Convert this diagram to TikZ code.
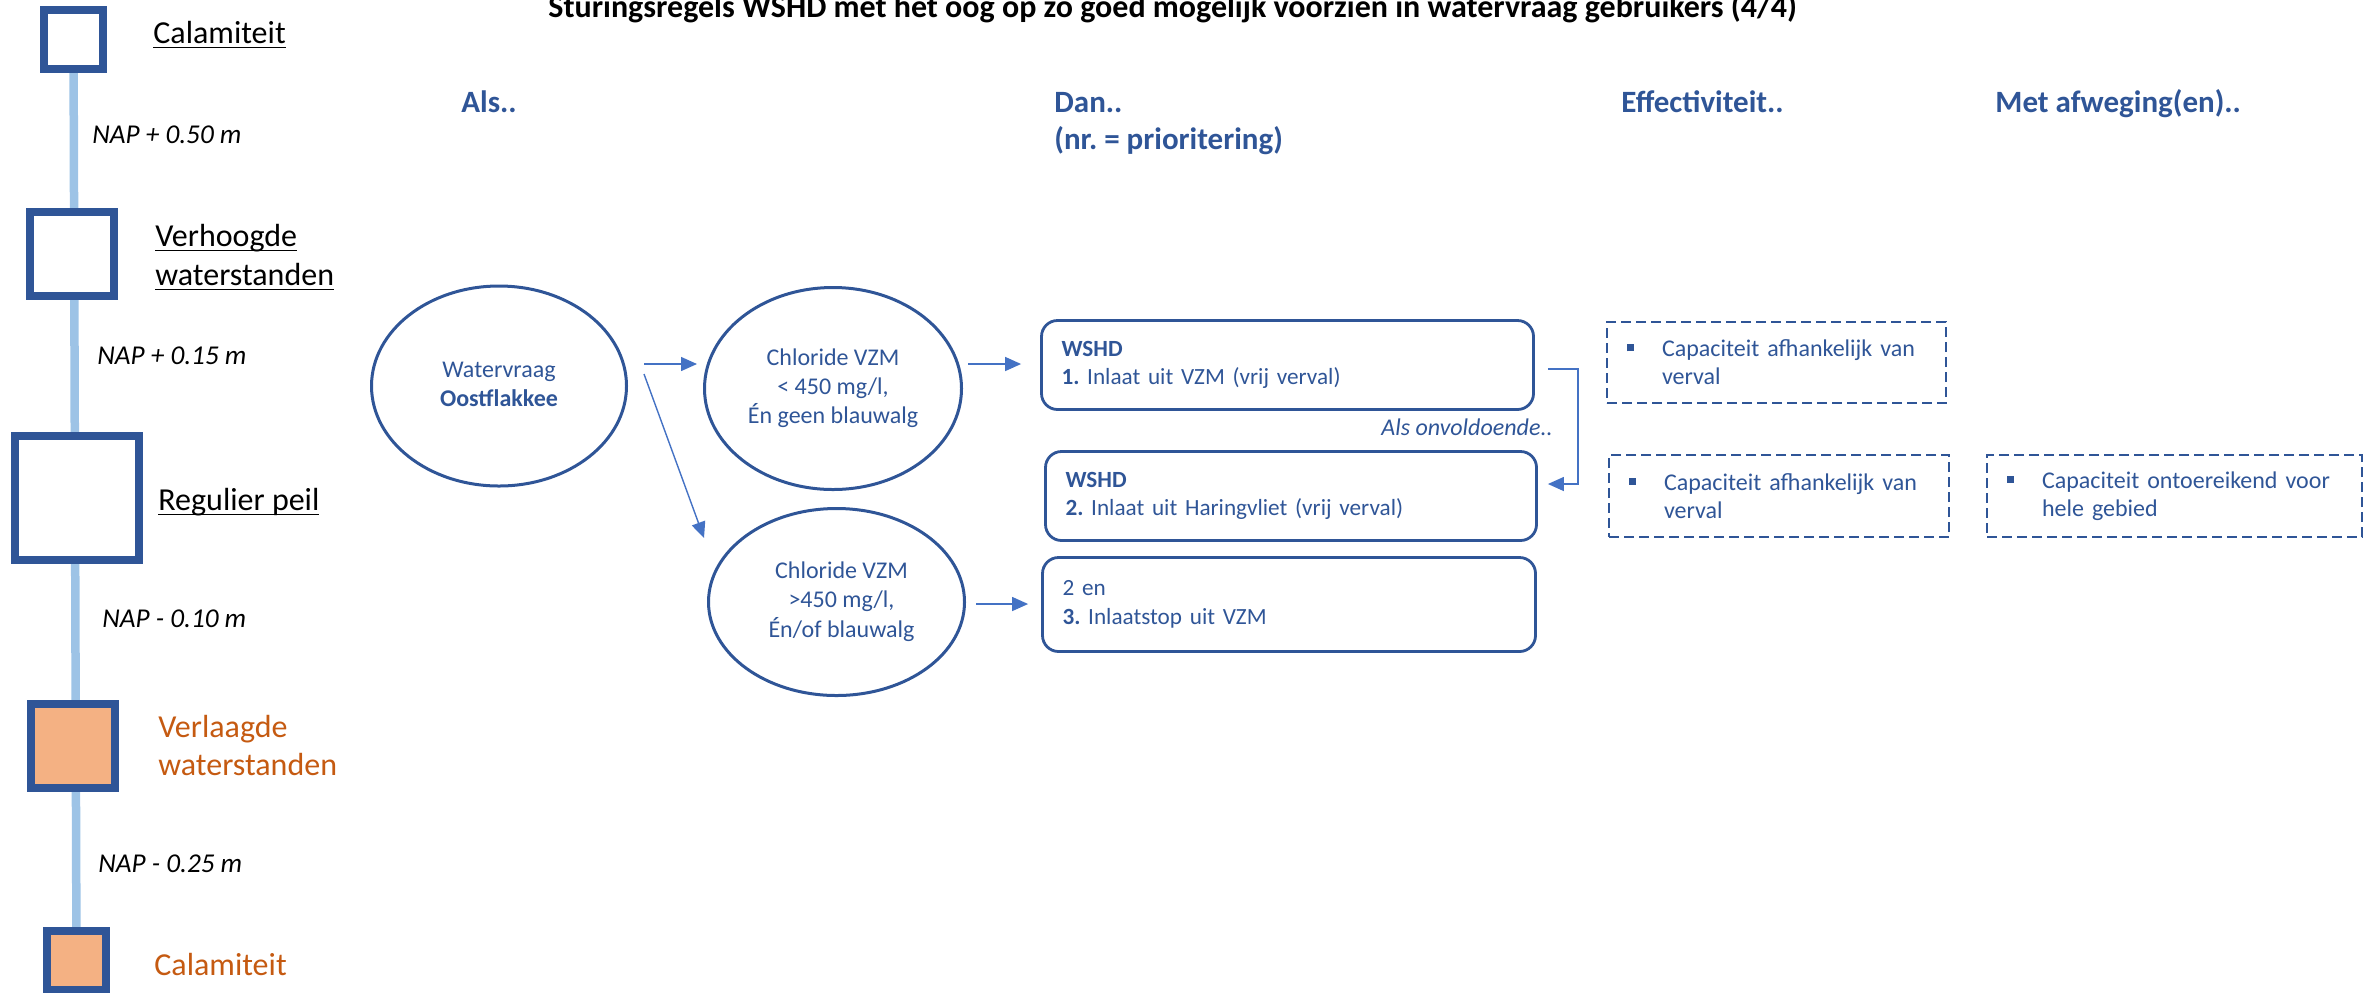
\documentclass[tikz,border=0pt]{standalone}
\usepackage{fontspec}
\setmainfont{Carlito}
\usetikzlibrary{arrows.meta,shapes.geometric,backgrounds,calc}
\definecolor{dblue}{HTML}{2F5597}
\definecolor{ablue}{HTML}{4472C4}
\definecolor{lblue}{HTML}{9DC3E6}
\definecolor{peach}{HTML}{F4B183}
\definecolor{dorange}{HTML}{C55A11}
\frenchspacing
\newcommand\myul[1]{\setbox0\hbox{#1}\rlap{\rule[-2.6pt]{\wd0}{0.85pt}}\box0}
\newcommand\bul{\rule[2.75pt]{3.5pt}{3.5pt}\hspace{14pt}}
\begin{document}
\begin{tikzpicture}[x=0.5pt,y=-0.5pt,
  lvl/.style={rectangle, draw=dblue, line width=4pt, fill=white, inner sep=0, minimum width=#1, minimum height=#1},
  lbl/.style={anchor=base west, inner sep=0, font=\fontsize{16}{19.5}\selectfont},
  nap/.style={anchor=base west, inner sep=0, font=\fontsize{13.6}{16}\selectfont\itshape},
  hdr/.style={anchor=base west, inner sep=0, text=dblue, font=\fontsize{15.5}{19}\selectfont\bfseries},
  ell/.style={ellipse, draw=dblue, line width=1.5pt, text=dblue, font=\fontsize{12}{14.6}\selectfont, inner sep=0},
  rbox/.style={rectangle, rounded corners=8pt, draw=dblue, line width=1.4pt, text=dblue, font=\fontsize{11.6}{14.3}\selectfont, align=left, inner xsep=10pt, inner ysep=0},
  dbox/.style={rectangle, draw=dblue, line width=1.3pt, dash pattern=on 5pt off 2.5pt, text=dblue, font=\fontsize{12}{14}\selectfont, align=left, inner xsep=10pt, inner ysep=0},
  arr/.style={draw=ablue, line width=0.7pt, -{Triangle[length=8pt,width=7pt]}}
]
\useasboundingbox (0,0) rectangle (2369,992);

% title
\node[anchor=base west, inner sep=0, font=\fontsize{16}{19}\selectfont\bfseries] (title) at (548,17)
  {Sturingsregels WSHD met het oog op zo goed mogelijk voorzien in watervraag gebruikers (4/4)};

% level column
\node[lvl=29.5pt] (sq1) at (73.5,39) {};
\node[lvl=42pt] (sq2) at (72,254) {};
\node[lvl=62pt] (sq3) at (77,497.5) {};
\node[lvl=42pt, fill=peach] (sq4) at (73,745.5) {};
\node[lvl=29.5pt, fill=peach] (sq5) at (76.5,960.5) {};
\begin{scope}[on background layer]
  \draw[lblue, line width=4.25pt] (sq1.center) -- (sq5.center);
\end{scope}

\node[lbl] (l1) at (153,43) {\myul{Calamiteit}};
\node[lbl] (l2a) at (155,246) {\myul{Verhoogde}};
\node[lbl] (l2b) at (155,285) {\myul{waterstanden}};
\node[lbl] (l3) at (158,510) {\myul{Regulier peil}};
\node[lbl, text=dorange] (l4a) at (158,737) {Verlaagde};
\node[lbl, text=dorange] (l4b) at (158,775) {waterstanden};
\node[lbl, text=dorange] (l5) at (154,975) {Calamiteit};

\node[nap] (n1) at (92,143) {NAP + 0.50 m};
\node[nap] (n2) at (97,364) {NAP + 0.15 m};
\node[nap] (n3) at (102,627) {NAP - 0.10 m};
\node[nap] (n4) at (98,872) {NAP - 0.25 m};

% headers
\node[hdr] (h1) at (461,112) {Als..};
\node[hdr] (h2) at (1054,112) {Dan..};
\node[hdr] (h2b) at (1054,149) {(nr. = prioritering)};
\node[hdr] (h3) at (1621,112) {Effectiviteit..};
\node[hdr] (h4) at (1995,112) {Met afweging(en)..};

% ellipses
\node[ell, minimum width=127.5pt, minimum height=100pt] (e1) at (499,386)
  {\begin{tabular}{@{}c@{}}Watervraag\\\textbf{Oostflakkee}\end{tabular}};
\node[ell, minimum width=128.5pt, minimum height=101pt] (e2) at (833,388.5)
  {\raisebox{5pt}{\begin{tabular}{@{}c@{}}Chloride VZM\\< 450 mg/l,\\Én geen blauwalg\end{tabular}}};
\node[ell, minimum width=128pt, minimum height=93.5pt] (e3) at (836.5,602)
  {\raisebox{2.25pt}{\hspace{5pt}\begin{tabular}{@{}c@{}}Chloride VZM\\>450 mg/l,\\Én/of blauwalg\end{tabular}}};

% action boxes
\node[rbox, text width=226pt, minimum height=44.5pt] (b1) at (1287.5,365)
  {\textbf{WSHD}\\\textbf{1.} Inlaat uit VZM (vrij verval)};
\node[rbox, text width=225.5pt, minimum height=44.5pt] (b2) at (1291,496)
  {\textbf{WSHD}\\\textbf{2.} Inlaat uit Haringvliet (vrij verval)};
\node[rbox, text width=226.5pt, minimum height=47pt] (b3) at (1289,604.5)
  {2 en\\\textbf{3.} Inlaatstop uit VZM};

\node[anchor=base east, inner sep=0, text=dblue, font=\fontsize{12}{14.6}\selectfont\itshape] (ao) at (1553,435) {Als onvoldoende..};

% dashed boxes
\node[dbox, text width=149.5pt, minimum height=40.5pt] (dA) at (1776.5,362.5)
  {\noindent\bul\parbox[t]{132pt}{\raggedright Capaciteit afhankelijk van\\verval}};
\node[dbox, text width=150pt, minimum height=41pt] (dB) at (1779,496)
  {\noindent\bul\parbox[t]{132pt}{\raggedright Capaciteit afhankelijk van\\verval}};
\node[dbox, text width=167.5pt, minimum height=41pt] (dC) at (2174.5,496)
  {\noindent\bul\parbox[t]{150pt}{\raggedright Capaciteit ontoereikend voor\\hele gebied}};

% connectors
\draw[arr] ([shift={(16,-22)}]e1.east) -- ([shift={(-6,-24.5)}]e2.west);
\draw[arr] ([shift={(16,-12)}]e1.east) -- ([shift={(-3,-64)}]e3.west);
\draw[arr] ([shift={(5,-24.5)}]e2.east) -- ([shift={(-19,-1)}]b1.west);
\draw[arr] ([shift={(10,2)}]e3.east) -- ([shift={(-13,-0.5)}]b3.west);
\draw[arr] ([shift={(13,4)}]b1.east) -- ++(30,0) |- ([shift={(10,-12)}]b2.east);
\end{tikzpicture}
\end{document}
